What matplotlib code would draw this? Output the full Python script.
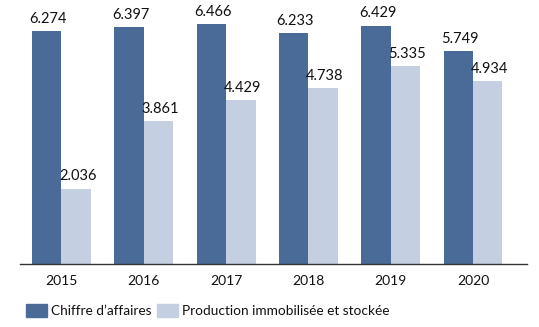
import matplotlib
matplotlib.use("Agg")
import matplotlib.pyplot as plt
import numpy as np
from matplotlib.patches import Patch

years = ['2015', '2016', '2017', '2018', '2019', '2020']
chiffre = [6.274, 6.397, 6.466, 6.233, 6.429, 5.749]
production = [2.036, 3.861, 4.429, 4.738, 5.335, 4.934]
labels = ['Chiffre d\u2019affaires', 'Production immobilis\u00e9e et stock\u00e9e']

dark = '#4a6a98'
light = '#c5cfe2'

plt.rcParams['font.family'] = ['Lato', 'DejaVu Sans']

fig = plt.figure(figsize=(5.39, 3.27), dpi=100)
ax = fig.add_axes([20 / 539, 63 / 327, 507 / 539, 264 / 327])

x = np.arange(len(years))
w = 0.358
b1 = ax.bar(x - w / 2, chiffre, w, color=dark)
b2 = ax.bar(x + w / 2, production, w, color=light)

for bars, vals in ((b1, chiffre), (b2, production)):
    for r, v in zip(bars, vals):
        ax.text(r.get_x() + r.get_width() / 2 + 0.02, v + 0.14, '%.3f' % v,
                ha='center', va='bottom', fontsize=10.5, color='#111111')

ax.set_xlim(-0.504, 5.656)
ax.set_ylim(0, 7.12)
ax.set_xticks(x)
ax.set_xticklabels(years, fontsize=10, color='#111111')
ax.tick_params(axis='x', length=0, pad=8)
ax.set_yticks([])
for s in ('top', 'right', 'left'):
    ax.spines[s].set_visible(False)
ax.spines['bottom'].set_color('#333333')
ax.spines['bottom'].set_linewidth(1)

handles = [Patch(color=dark), Patch(color=light)]
fig.legend(handles, labels, loc='lower left', bbox_to_anchor=(0.03, 0.0),
           ncol=2, frameon=False, fontsize=9.8, handlelength=1.55,
           handleheight=1.1, handletextpad=0.3, columnspacing=0.4,
           borderaxespad=0.3, labelcolor='#111111')

fig.savefig('out.png', dpi=100)
